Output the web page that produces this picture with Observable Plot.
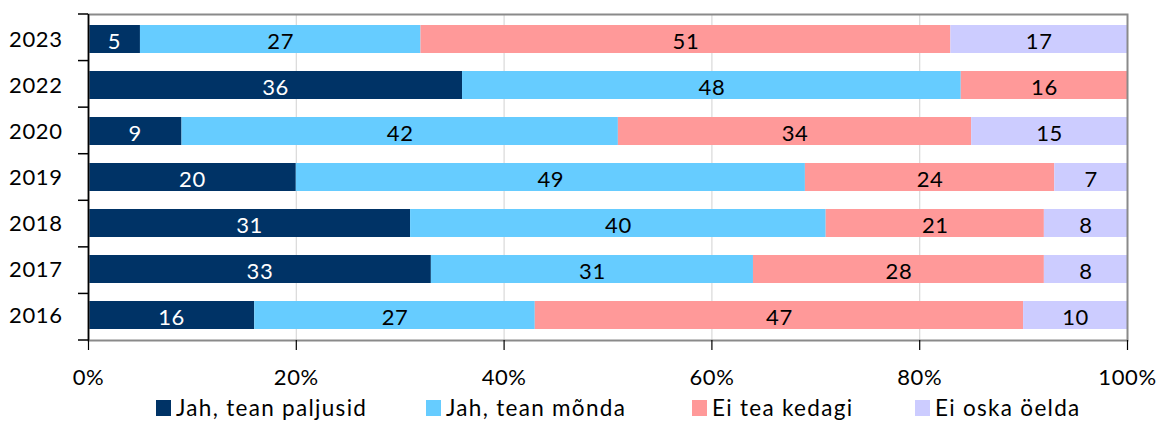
<!DOCTYPE html>
<html><head><meta charset="utf-8">
<script src="https://cdn.jsdelivr.net/npm/d3@7"></script>
<script src="https://cdn.jsdelivr.net/npm/@observablehq/plot@0.6"></script>
<style>
body{margin:0;background:#fff;font-family:Lato,"Liberation Sans",Arial,sans-serif;}
#wrap{position:relative;width:1158px;height:421px;overflow:hidden;}
.item{position:absolute;top:396px;display:flex;align-items:center;font-size:22.5px;letter-spacing:1.3px;white-space:nowrap;color:#000;line-height:24px;}
.sw{width:15px;height:16px;margin-right:5px;}
</style></head><body><div id="wrap"></div>
<script>
const years = ["2023","2022","2020","2019","2018","2017","2016"];
const series = ["Jah, tean paljusid","Jah, tean mõnda","Ei tea kedagi","Ei oska öelda"];
const colors = ["#003366","#66CCFF","#FF9999","#CCCCFF"];
const paljusid = [5,36,9,20,31,33,16];
const monda   = [27,48,42,49,40,31,27];
const kedagi  = [51,16,34,24,21,28,47];
const oska    = [17,0,15,7,8,8,10];
const xTicks = [0,20,40,60,80,100];

const valuesBySeries = [paljusid, monda, kedagi, oska];
const rows = [];
years.forEach((y, i) => valuesBySeries.forEach((arr, j) => rows.push({year: y, series: series[j], value: arr[i]})));

const chart = Plot.plot({
  width: 1158, height: 392,
  marginLeft: 88, marginRight: 31, marginTop: 14, marginBottom: 52,
  style: {fontFamily: "Lato, Liberation Sans, Arial, sans-serif", fontSize: "22px", letterSpacing: "0.6px", color: "#000", background: "#fff"},
  x: {domain: [0, 100]},
  y: {domain: years, paddingInner: 0.4, paddingOuter: 0.2},
  color: {domain: series, range: colors},
  marks: [
    Plot.gridX(xTicks.slice(1, -1), {stroke: "#d9d9d9", strokeOpacity: 1, strokeWidth: 1.2}),
    Plot.barX(rows, {x: "value", y: "year", fill: "series", z: "series"}),
    Plot.text(rows, Plot.stackX({x: "value", y: "year", z: "series",
      text: d => (d.series === series[0] && d.value > 0) ? String(d.value) : "",
      fill: "white", fontSize: 22, dy: 2})),
    Plot.text(rows, Plot.stackX({x: "value", y: "year", z: "series",
      text: d => (d.series !== series[0] && d.value > 0) ? String(d.value) : "",
      fill: "black", fontSize: 22, dy: 2})),
    Plot.frame({stroke: "#8a8a8a", strokeWidth: 2}),
    Plot.axisX({ticks: xTicks, tickFormat: d => d + "%", tickSize: 10, tickPadding: 19, label: null, stroke: "black", strokeWidth: 1.2}),
    Plot.axisY({tickSize: 0, tickPadding: 26, label: null}),
    Plot.ruleX([0], {stroke: "black", strokeWidth: 1.5})
  ]
});

// y ticks at band boundaries, from the plot's own y scale
const ys = chart.scale("y");
const band = d3.scaleBand().domain(ys.domain).range(ys.range)
  .paddingInner(ys.paddingInner).paddingOuter(ys.paddingOuter).align(ys.align ?? 0.5);
const half = band.step() * band.paddingInner() / 2;
const bounds = ys.domain.map(d => band(d) - half);
bounds.push(band(ys.domain[ys.domain.length - 1]) + band.bandwidth() + half);
const x0 = chart.scale("x").range[0];
const g = d3.select(chart).append("g").attr("stroke", "black").attr("stroke-width", 1.5);
bounds.forEach(b => g.append("line").attr("x1", x0 - 10).attr("x2", x0).attr("y1", b).attr("y2", b));

const wrap = document.getElementById("wrap");
wrap.appendChild(chart);
const legendLeft = [156, 426, 692, 915];
series.forEach((s, i) => {
  const it = document.createElement("div");
  it.className = "item";
  it.style.left = legendLeft[i] + "px";
  const sw = document.createElement("span");
  sw.className = "sw";
  sw.style.background = colors[i];
  const t = document.createElement("span");
  t.textContent = s;
  it.appendChild(sw); it.appendChild(t);
  wrap.appendChild(it);
});
</script></body></html>
